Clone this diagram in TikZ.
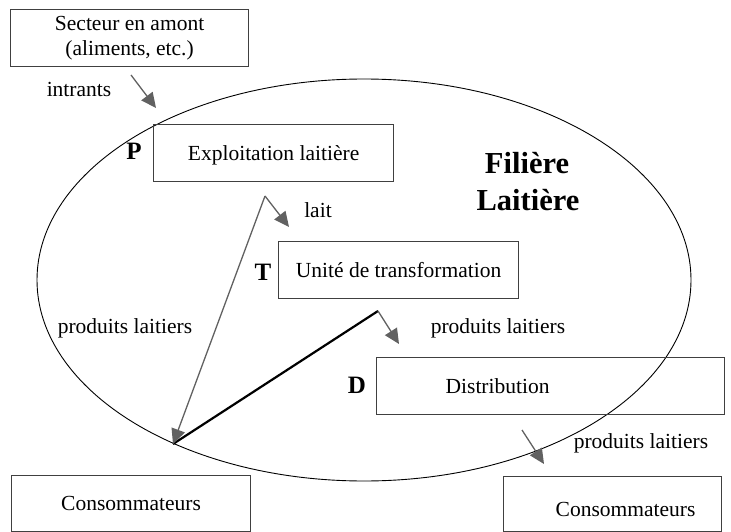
\documentclass[tikz,border=0pt]{standalone}
\usepackage{fontspec}
\setmainfont{Liberation Serif}
\newfontfamily\chainfont{Liberation Serif}
\usetikzlibrary{arrows.meta,shapes.geometric}
\begin{document}
\begin{tikzpicture}[x=1pt,y=-1pt,
  box/.style={draw=black!75, line width=1.2pt, inner sep=0pt, anchor=north west,
    font=\chainfont\fontsize{21.5}{25}\selectfont, align=center, text depth=0pt},
  lbl/.style={font=\chainfont\fontsize{21.5}{25}\selectfont, inner sep=0pt, anchor=base},
  tag/.style={font=\chainfont\fontsize{25}{28}\selectfont\bfseries, inner sep=0pt, anchor=base},
  title/.style={font=\chainfont\fontsize{30.5}{36}\selectfont\bfseries, inner sep=0pt, anchor=base},
  flow/.style={draw=black!62, line width=1.3pt, -{Triangle[length=15pt,width=14pt]}},
  main/.style={draw=black, line width=2.2pt},
]
\useasboundingbox (0,0) rectangle (731,532);

% the dairy chain as an ellipse
\node[draw=black, line width=0.9pt, ellipse, minimum width=654, minimum height=402, inner sep=0pt] (filiere) at (364,280) {};

% boxes
\node[box, minimum width=238, minimum height=57, text depth=] (secteur) at (10,9) {Secteur en amont\\(aliments, etc.)};
\node[box, minimum width=240, minimum height=57] (exploit) at (153,124) {Exploitation laitière};
\node[box, minimum width=240, minimum height=57] (unite) at (278,241) {Unité de transformation};
\node[box, minimum width=348, minimum height=57] (distrib) at (376,357) {Distribution\hspace*{106pt}};
\node[box, minimum width=239, minimum height=56] (conso1) at (11,475) {Consommateurs};
\node[box, minimum width=218, minimum height=55, text height=24pt] (conso2) at (503,476) {\hspace*{26pt}Consommateurs};

% stage letters and title
\node[tag] (p) at (134,160) {P};
\node[tag] (t) at (263,280) {T};
\node[tag] (d) at (357,393) {D};
\node[title] (fil1) at (527,174) {Filière};
\node[title] (fil2) at (528,210) {Laitière};

% connector end points
\coordinate (i1) at (131,75);
\coordinate (i2) at (156,108);
\coordinate (l1) at (265,196);
\coordinate (l2) at (289,227);
\coordinate (c) at (173,444);
\coordinate (t1) at (378,311);
\coordinate (t2) at (399,344);
\coordinate (d1) at (522,430);
\coordinate (d2) at (544,464);

% flows
\draw[main] (t1) -- (c);
\draw[flow] (i1) -- (i2);
\draw[flow] (l1) -- (l2);
\draw[flow] (l1) -- (c);
\draw[flow] (t1) -- (t2);
\draw[flow] (d1) -- (d2);

% flow labels
\node[lbl] (lint) at (79,97) {intrants};
\node[lbl] (llait) at (318,217) {lait};
\node[lbl] (lpl1) at (125,333) {produits laitiers};
\node[lbl] (lpl2) at (498,333) {produits laitiers};
\node[lbl] (lpl3) at (641,448) {produits laitiers};
\end{tikzpicture}
\end{document}
